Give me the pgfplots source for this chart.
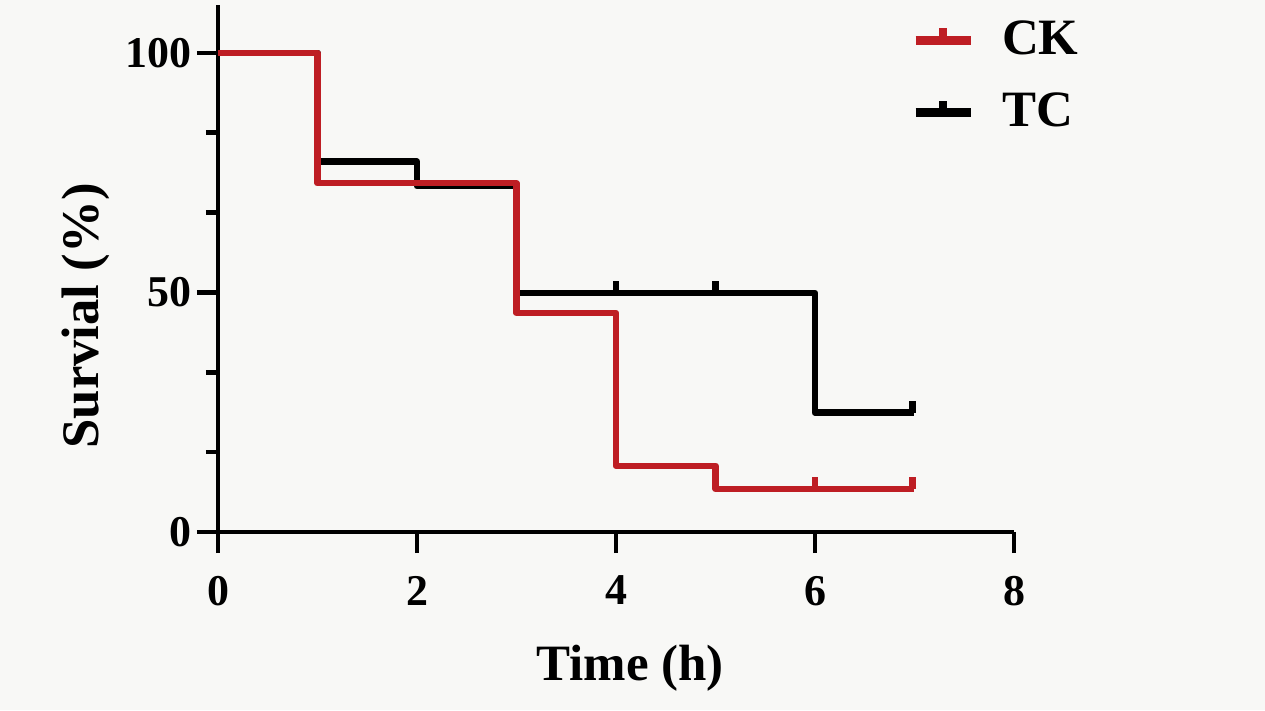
\documentclass[border=0pt]{standalone}
\usepackage{pgfplots}
\pgfplotsset{compat=1.18}
\usepackage{fontspec}
\setmainfont{Liberation Serif}
\definecolor{ckred}{RGB}{190,30,36}
\definecolor{bg}{RGB}{248,248,246}
\pgfdeclareplotmark{cens}{\pgfpathmoveto{\pgfqpoint{0pt}{0pt}}\pgfpathlineto{\pgfqpoint{0pt}{3.4pt}}\pgfusepathqstroke}
\begin{document}
\begin{tikzpicture}
\fill[bg] (-2.18,-1.78) rectangle (10.47,5.32);
\begin{axis}[
  at={(0,0)}, anchor=south west,
  scale only axis, width=7.96cm, height=5.27cm,
  xmin=0, xmax=8, ymin=0, ymax=110,
  axis x line=bottom, axis y line=left,
  axis line style={-, line width=1.3pt},
  xtick={0,2,4,6,8}, ytick={0,50,100},
  minor ytick={16.667,33.333,66.667,83.333},
  tick align=outside,
  major tick length=0.21cm, minor tick length=0.12cm,
  tick style={line width=1.3pt, black},
  /pgf/number format/assume math mode=true,
  ticklabel style={font=\bfseries\fontsize{12.5}{14}\selectfont},
  xticklabel style={yshift=-3pt},
  yticklabel style={xshift=2pt},
  xlabel={Time (h)}, ylabel={Survial (\%)},
  xlabel style={font=\bfseries\fontsize{14.5}{17}\selectfont, at={(axis description cs:0.518,-0.258)}, anchor=center},
  ylabel style={font=\bfseries\fontsize{15}{17}\selectfont, at={(axis description cs:-0.166,0.41)}, anchor=center},
  clip=false,
  legend style={draw=none, fill=none, at={(axis description cs:0.87,0.985)}, anchor=north west,
    font=\bfseries\fontsize{14.5}{17}\selectfont, row sep=5.5pt, inner sep=0pt},
  legend cell align=left,
  reverse legend,
  legend image code/.code={\draw[#1, line width=2.5pt] (0cm,0cm) -- (0.55cm,0cm); \draw[#1, line width=2.2pt] (0.275cm,0cm) -- (0.275cm,0.12cm);},
]
\addplot[const plot, black, line width=1.85pt, line join=round] coordinates {(0,100) (1,77.3) (2,72.2) (3,49.9) (6,24.9) (7,24.9)};
\addlegendentry{\hspace{0.2cm}TC}
\addplot[const plot, ckred, line width=1.85pt, line join=round] coordinates {(0,100) (1,72.8) (3,45.7) (4,13.8) (5,9.0) (7,9.0)};
\addlegendentry{\hspace{0.2cm}CK}
\addplot[only marks, mark=cens, ckred, line width=1.85pt, forget plot] coordinates {(6,9.0) (6.98,9.0)};
\addplot[only marks, mark=cens, black, line width=1.85pt, forget plot] coordinates {(4,49.9) (5,49.9) (6.98,24.9)};
\end{axis}
\path (-2.18,-1.78) rectangle (10.47,5.32);
\end{tikzpicture}
\end{document}
